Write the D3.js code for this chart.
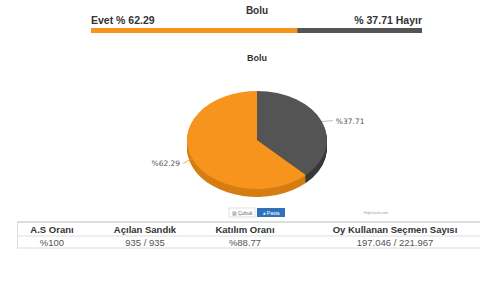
<!DOCTYPE html>
<html>
<head>
<meta charset="utf-8">
<script src="https://cdn.jsdelivr.net/npm/d3@7"></script>
<style>
  body { margin: 0; background: #fff; }
  text { font-family: "Liberation Sans", Arial, sans-serif; }
</style>
</head>
<body>
<div id="chart"></div>
<script>
// data
var cityName = "Bolu";
var categories = ["Hayır", "Evet"];
var shares = [37.71, 62.29];
var colors = ["#545454", "#f7941d"];
var sideColors = ["#383838", "#d67d12"];
var tableHeaders = ["A.S Oranı", "Açılan Sandık", "Katılım Oranı", "Oy Kullanan Seçmen Sayısı"];
var tableValues = ["%100", "935 / 935", "%88.77", "197.046 / 221.967"];

var width = 480, height = 288;

var svg = d3.select('#chart')
    .append('svg')
    .attr('width', width)
    .attr('height', height);

// top title + horizontal bar
svg.append('text')
    .attr('x', 257).attr('y', 14)
    .attr('text-anchor', 'middle')
    .style('font-size', '10px').style('font-weight', 'bold').style('fill', '#333')
    .text(cityName);

var x = d3.scaleLinear().domain([0, 100]).range([91, 422]);

svg.append('text')
    .attr('x', x(0)).attr('y', 24)
    .style('font-size', '10.5px').style('font-weight', 'bold').style('fill', '#333')
    .text(categories[1] + " % " + shares[1].toFixed(2));

svg.append('text')
    .attr('x', x(100)).attr('y', 24)
    .attr('text-anchor', 'end')
    .style('font-size', '10.5px').style('font-weight', 'bold').style('fill', '#333')
    .text("% " + shares[0].toFixed(2) + " " + categories[0]);

// orange part first, then dark remainder
svg.append('rect')
    .attr('x', x(0)).attr('y', 28)
    .attr('width', x(shares[1]) - x(0)).attr('height', 5)
    .attr('fill', colors[1]);
svg.append('rect')
    .attr('x', x(shares[1])).attr('y', 28)
    .attr('width', x(100) - x(shares[1])).attr('height', 5)
    .attr('fill', colors[0]);

// pie
svg.append('text')
    .attr('x', 257).attr('y', 61)
    .attr('text-anchor', 'middle')
    .style('font-size', '9px').style('font-weight', 'bold').style('fill', '#333')
    .text(cityName);

var cx = 257, cy = 140, rx = 70, squash = 0.7, depth = 8;
var dataset = categories.map(function (c, i) { return { label: c, value: shares[i], i: i }; });
var pie = d3.pie().sort(null).value(function (d) { return d.value; });
var arc = d3.arc().innerRadius(0).outerRadius(rx);
var slices = pie(dataset);

// side wall: stacked copies with the darker colours
for (var k = depth; k > 0; k--) {
    svg.append('g')
        .attr('transform', `translate(${cx}, ${cy + k}) scale(1, ${squash})`)
        .selectAll('path')
        .data(slices)
        .enter()
        .append('path')
        .attr('d', arc)
        .attr('fill', function (d) { return sideColors[d.data.i]; });
}

svg.append('g')
    .attr('transform', `translate(${cx}, ${cy}) scale(1, ${squash})`)
    .selectAll('path')
    .data(slices)
    .enter()
    .append('path')
    .attr('d', arc)
    .attr('fill', function (d) { return colors[d.data.i]; });

// labels with connector lines
slices.forEach(function (d) {
    var a = (d.startAngle + d.endAngle) / 2;
    var px = cx + rx * Math.sin(a), py = cy - rx * squash * Math.cos(a);
    var right = Math.sin(a) > 0;
    var ex = px + (right ? 11 : -9), ey = py + (right ? -1 : 5);
    svg.append('path')
        .attr('d', `M${px},${py}L${ex},${ey}`)
        .attr('stroke', right ? '#aaa' : colors[1])
        .attr('stroke-width', 0.8)
        .attr('fill', 'none');
    svg.append('text')
        .attr('x', ex + (right ? 3 : -3)).attr('y', ey + 3)
        .attr('text-anchor', right ? 'start' : 'end')
        .style('font-family', '"DejaVu Sans", sans-serif')
        .style('font-size', '7.5px').style('fill', '#555')
        .text('%' + d.data.value.toFixed(2));
});

// buttons
var btn = svg.append('g');
btn.append('rect').attr('x', 229).attr('y', 208).attr('width', 26).attr('height', 9)
    .attr('fill', '#fff').attr('stroke', '#ccc').attr('stroke-width', 0.6);
btn.append('text').attr('x', 242).attr('y', 214.5).attr('text-anchor', 'middle')
    .style('font-size', '5px').style('fill', '#666').text('▥ Çubuk');
btn.append('rect').attr('x', 257).attr('y', 208).attr('width', 28).attr('height', 9)
    .attr('fill', '#2f71b8');
btn.append('text').attr('x', 271).attr('y', 214.5).attr('text-anchor', 'middle')
    .style('font-size', '5px').style('fill', '#fff').text('◕ Pasta');
svg.append('text').attr('x', 376).attr('y', 214).attr('text-anchor', 'middle')
    .style('font-size', '3.5px').style('fill', '#999').text('Highcharts.com');

// table
var colX = [52, 145, 245, 395];
[222, 236, 248].forEach(function (yy, i) {
    svg.append('line')
        .attr('x1', 17).attr('x2', 480).attr('y1', yy).attr('y2', yy)
        .attr('stroke', i == 0 ? '#bbb' : '#ddd').attr('stroke-width', 1);
});
svg.append('line').attr('x1', 17.5).attr('x2', 17.5).attr('y1', 222).attr('y2', 248)
    .attr('stroke', '#ddd');

svg.selectAll('.th')
    .data(tableHeaders)
    .enter()
    .append('text')
    .attr('class', 'th')
    .attr('x', function (d, i) { return colX[i]; })
    .attr('y', 233)
    .attr('text-anchor', 'middle')
    .style('font-size', '9.5px').style('font-weight', 'bold').style('fill', '#333')
    .text(function (d) { return d; });

svg.selectAll('.td')
    .data(tableValues)
    .enter()
    .append('text')
    .attr('class', 'td')
    .attr('x', function (d, i) { return colX[i]; })
    .attr('y', 245.5)
    .attr('text-anchor', 'middle')
    .style('font-size', '9.5px').style('fill', '#555')
    .text(function (d) { return d; });
</script>
</body>
</html>
